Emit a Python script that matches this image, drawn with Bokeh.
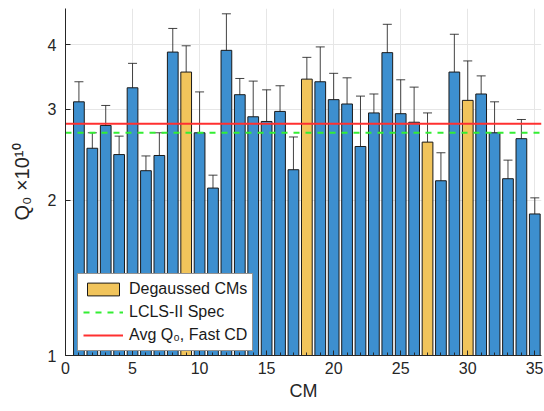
from bokeh.plotting import figure
from bokeh.models import (ColumnDataSource, Range1d, FixedTicker, Whisker, TeeHead,
                          Legend, LegendItem)
from bokeh.embed import file_html
from bokeh.resources import INLINE

cms = list(range(1, 36))
q0 = [3.10, 2.52, 2.79, 2.45, 3.30, 2.28, 2.44, 3.87, 3.54, 2.70,
      2.11, 3.90, 3.20, 2.90, 2.84, 2.97, 2.29, 3.43, 3.39, 3.13,
      3.07, 2.54, 2.95, 3.86, 2.94, 2.83, 2.59, 2.18, 3.54, 3.12,
      3.21, 2.70, 2.20, 2.63, 1.88]
q0_err = [0.29, 0.18, 0.26, 0.21, 0.38, 0.155, 0.26, 0.43, 0.44, 0.54,
          0.125, 0.69, 0.24, 0.50, 0.43, 0.36, 0.36, 0.35, 0.57, 0.39,
          0.38, 0.64, 0.26, 0.52, 0.48, 0.48, 0.36, 0.29, 0.65, 0.60,
          0.27, 0.40, 0.19, 0.235, 0.14]
degaussed = [9, 18, 27, 30]
spec_q0 = 2.70
avg_fast_cd = 2.81
x_ticks = [0, 5, 10, 15, 20, 25, 30, 35]
y_ticks = [1, 2, 3, 4]
x_lo, x_hi = 0, 35.5
y_lo, y_hi = 1, 4.7

BLUE = "#3d8fcf"
YELLOW = "#f1c45b"
FONT = "Liberation Sans"

reg_x = [c for c in cms if c not in degaussed]
reg_y = [q0[c - 1] for c in reg_x]
deg_x = [c for c in cms if c in degaussed]
deg_y = [q0[c - 1] for c in deg_x]

p = figure(width=543, height=403, output_backend="svg", toolbar_location=None,
           y_axis_type="log", x_range=Range1d(x_lo, x_hi), y_range=Range1d(y_lo, y_hi),
           min_border_left=65, min_border_right=2, min_border_top=8, min_border_bottom=47)
p.outline_line_color = None
p.background_fill_color = "white"

p.vbar(x=reg_x, top=reg_y, bottom=1, width=0.8, fill_color=BLUE,
       line_color="#1a1a1a", line_width=1)
r_deg = p.vbar(x=deg_x, top=deg_y, bottom=1, width=0.8, fill_color=YELLOW,
               line_color="#1a1a1a", line_width=1)

src = ColumnDataSource(dict(x=cms,
                            lo=[v - e for v, e in zip(q0, q0_err)],
                            hi=[v + e for v, e in zip(q0, q0_err)]))
w = Whisker(source=src, base="x", lower="lo", upper="hi",
            line_color="#222222", line_width=1, line_alpha=0.85,
            upper_head=TeeHead(size=9, line_color="#222222", line_width=1, line_alpha=0.85),
            lower_head=TeeHead(size=9, line_color="#222222", line_width=1, line_alpha=0.85))
p.add_layout(w)

r_spec = p.line(x=[x_lo, x_hi], y=[spec_q0, spec_q0], line_color="#33ee33",
                line_width=2, line_dash="6 6")
r_avg = p.line(x=[x_lo, x_hi], y=[avg_fast_cd, avg_fast_cd], line_color="#ff3030",
               line_width=2)

legend = Legend(items=[LegendItem(label="Degaussed CMs", renderers=[r_deg]),
                       LegendItem(label="LCLS-II Spec", renderers=[r_spec]),
                       LegendItem(label="Avg Q₀, Fast CD", renderers=[r_avg])],
                location=(12, 4), label_text_font=FONT, label_text_font_size="16px",
                label_text_color="#1a1a1a", border_line_color="#262626",
                border_line_width=1, background_fill_alpha=1, glyph_width=40,
                glyph_height=16, label_standoff=6, spacing=3, padding=5, margin=0,
                label_height=20)
p.add_layout(legend, "center")

p.xaxis.ticker = FixedTicker(ticks=x_ticks, minor_ticks=list(range(0, 36)))
p.yaxis.ticker = FixedTicker(ticks=y_ticks, minor_ticks=[])
p.yaxis.major_label_overrides = {1: "1", 2: "2", 3: "3", 4: "4"}
for ax in (p.xaxis, p.yaxis):
    ax.major_tick_in = 5
    ax.major_tick_out = 0
    ax.minor_tick_in = 3
    ax.minor_tick_out = 0
    ax.axis_line_color = "#262626"
    ax.major_tick_line_color = "#262626"
    ax.minor_tick_line_color = "#262626"
    ax.major_label_text_font = FONT
    ax.major_label_text_font_size = "16px"
    ax.major_label_text_color = "#262626"
    ax.axis_label_text_font = FONT
    ax.axis_label_text_font_size = "18px"
    ax.axis_label_text_font_style = "normal"
    ax.axis_label_text_color = "#262626"
p.yaxis.minor_tick_in = 0
p.yaxis.axis_label_text_font_size = "20px"
p.xaxis.axis_label = "CM"
p.yaxis.axis_label = "Q₀ ×10¹⁰"
p.xaxis.major_label_standoff = 6
p.yaxis.major_label_standoff = 9
p.xaxis.axis_label_standoff = 4
p.yaxis.axis_label_standoff = 12

p.xgrid.ticker = FixedTicker(ticks=x_ticks)
p.ygrid.ticker = FixedTicker(ticks=y_ticks)
p.grid.grid_line_color = "#e6e6e6"
p.grid.grid_line_width = 1

open("out.html", "w").write(file_html(p, INLINE))
